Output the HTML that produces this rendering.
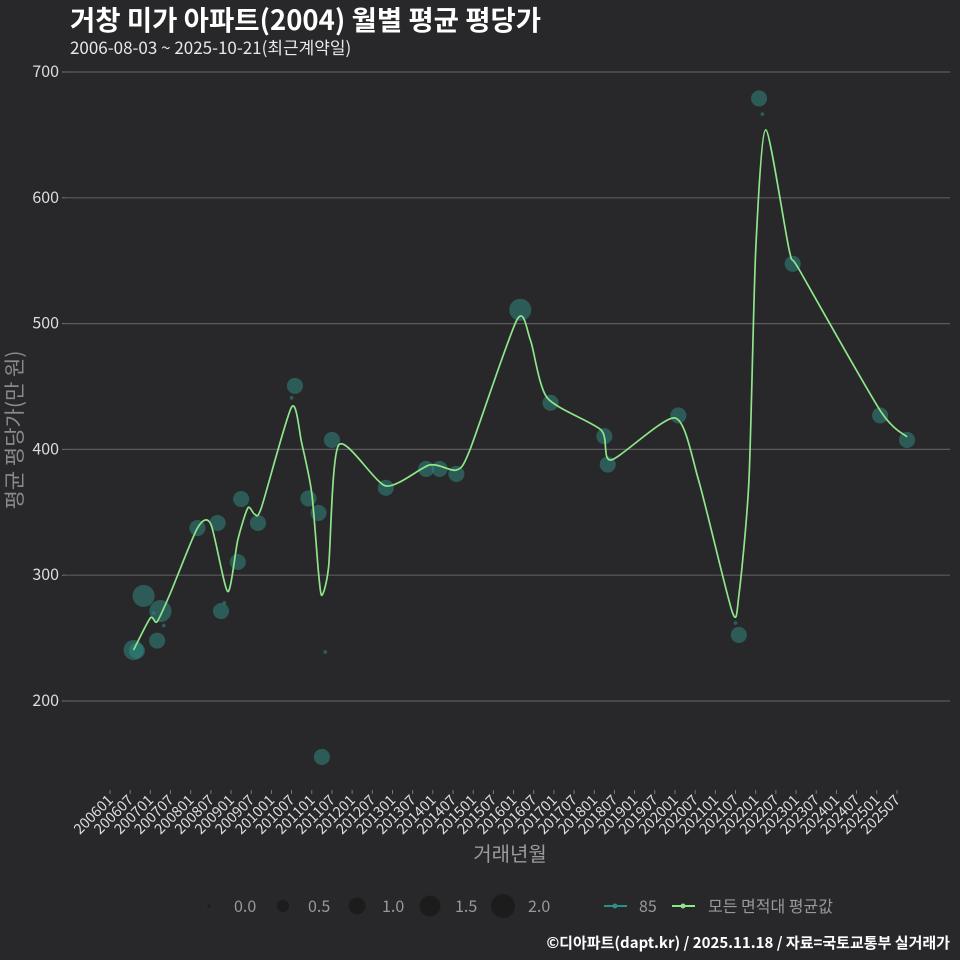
<!DOCTYPE html>
<html><head><meta charset="utf-8">
<style>
html,body{margin:0;padding:0;background:#282729;}
svg{display:block;font-family:"Noto Sans CJK KR","Liberation Sans",sans-serif;}
</style></head>
<body>
<svg id="chart" width="960" height="960" viewBox="0 0 960 960">
<rect width="960" height="960" fill="#282729"/>
<text x="70" y="30" font-size="27.5" font-weight="bold" fill="#ffffff">거창 미가 아파트(2004) 월별 평균 평당가</text>
<text x="70" y="54" font-size="17" fill="#e8e8e8">2006-08-03 ~ 2025-10-21(최근계약일)</text>
<g id="grid"></g>
<g id="yticks"></g>
<g id="xticks"></g>
<g id="bubbles"></g>
<path id="avgline" fill="none" stroke="#8ee68a" stroke-width="1.7"/>
<text transform="translate(22,430) rotate(-90)" text-anchor="middle" font-size="21" fill="#8a8a8a">평균 평당가(만 원)</text>
<text x="510" y="861" text-anchor="middle" font-size="20" fill="#9a9a9a">거래년월</text>
<g id="legend"></g>
<text x="950" y="948" text-anchor="end" font-size="15" font-weight="bold" fill="#ffffff">©디아파트(dapt.kr) / 2025.11.18 / 자료=국토교통부 실거래가</text>
</svg>
<script>
// data
const yTicks = [200, 300, 400, 500, 600, 700];
const xTickLabels = [];
for (let y = 2006; y <= 2025; y++) { xTickLabels.push(y + "01"); xTickLabels.push(y + "07"); }
// bubbles: month index since 2006-01, value, size
const bubbleMonths = [7, 8, 10, 14, 15, 26, 32, 33, 38, 39, 44, 55, 59, 62, 63, 66, 82, 94, 98, 103, 122, 131, 147, 148, 169, 187, 193, 203, 229, 237, 194, 186, 64, 54, 34, 13, 16];
const bubbleValues = [240.5, 240, 283.5, 248, 271.5, 337.5, 341.5, 271.5, 310.5, 360.5, 341.5, 450.5, 361, 349.5, 155.5, 407.5, 369.5, 384.5, 384.5, 380.5, 511, 437, 410.5, 388, 427, 252.5, 679, 547.5, 427, 407.5, 666.5, 262, 239, 441, 278, 270, 260];
const bubbleSizes = [1.4, 0.9, 1.7, 0.9, 1.7, 0.9, 0.9, 0.9, 0.9, 0.9, 0.9, 0.9, 0.9, 0.9, 0.9, 0.9, 0.9, 0.9, 0.9, 0.9, 1.7, 0.9, 0.9, 0.9, 0.9, 0.9, 0.9, 0.9, 0.9, 0.9, 0.05, 0.05, 0.05, 0.05, 0.05, 0.05, 0.05];
// average line
const lineMonths = [7, 12, 14, 18, 26, 30, 35, 38, 41, 43, 45, 54, 57, 60, 62, 63, 65, 68, 82, 95, 103, 107, 121, 125, 130, 146, 149, 168, 175, 185, 187, 190, 192, 195, 202, 205, 229, 237];
const lineValues = [240.5, 266, 263, 286, 337.5, 340.5, 287, 328, 353.5, 348.5, 353.5, 433.7, 405, 365, 302, 284, 306.5, 403.5, 371, 387.6, 383.6, 399.5, 503, 487, 441, 415.5, 391.6, 425, 375.7, 271, 284, 375.7, 558, 654, 558, 542.6, 431, 410];

const NS = "http://www.w3.org/2000/svg";
const X = m => 110 + m * 3.363;
const Y = v => 72 + (700 - v) * 1.258;
const R = s => Math.max(1.6, 12 * Math.sqrt(s / 2));
function mk(tag, attrs, parent, text) {
  const e = document.createElementNS(NS, tag);
  for (const k in attrs) e.setAttribute(k, attrs[k]);
  if (text !== undefined) e.textContent = text;
  parent.appendChild(e);
  return e;
}
const grid = document.getElementById('grid');
const yt = document.getElementById('yticks');
yTicks.forEach(v => {
  const l = mk('line', {x1: 65, x2: 950, y1: Y(v), y2: Y(v), stroke: '#5c5c5c', 'stroke-width': 1.2}, grid);
  
  
  mk('line', {x1: 62, x2: 65, y1: Y(v), y2: Y(v), stroke: '#777'}, yt);
  const t = mk('text', {x: 59, y: Y(v) + 5, 'text-anchor': 'end', 'font-size': 16, fill: '#dddddd'}, yt, v);
  
  
});
const xt = document.getElementById('xticks');
xTickLabels.forEach((lab, i) => {
  const x = X(i * 6);
  mk('line', {x1: x, x2: x, y1: 790, y2: 794, stroke: '#777'}, xt);
  const t = mk('text', {transform: `translate(${x + 4},801) rotate(-45)`, 'text-anchor': 'end', 'font-size': 14.5, fill: '#dddddd'}, xt, lab);
  
  
});
const bg = document.getElementById('bubbles');
bubbleMonths.forEach((m, i) => {
  const c = mk('circle', {cx: X(m), cy: Y(bubbleValues[i]), r: R(bubbleSizes[i]), fill: 'rgba(48,135,128,0.55)'}, bg);
  
  
});
// smooth line (Catmull-Rom)
const pts = lineMonths.map((m, i) => [X(m), Y(lineValues[i])]);
let d = `M${pts[0][0]},${pts[0][1]}`;
for (let i = 0; i < pts.length - 1; i++) {
  const p0 = pts[Math.max(0, i - 1)], p1 = pts[i], p2 = pts[i + 1], p3 = pts[Math.min(pts.length - 1, i + 2)];
  const t = 0.12;
  d += ` C${p1[0] + (p2[0] - p0[0]) * t},${p1[1] + (p2[1] - p0[1]) * t} ${p2[0] - (p3[0] - p1[0]) * t},${p2[1] - (p3[1] - p1[1]) * t} ${p2[0]},${p2[1]}`;
}
document.getElementById('avgline').setAttribute('d', d);
// legend
const lg = document.getElementById('legend');
const legSizes = [0, 0.5, 1, 1.5, 2];
const legLabels = ['0.0', '0.5', '1.0', '1.5', '2.0'];
const legX = [209, 283, 357, 430, 503];
legSizes.forEach((s, i) => {
  const c = mk('circle', {cx: legX[i], cy: 906, r: R(s), fill: '#1c1c1c'}, lg);
  
  
  mk('text', {x: legX[i] + 25, y: 912, 'font-size': 16, fill: '#999'}, lg, legLabels[i]);
});
mk('line', {x1: 604, x2: 627, y1: 906, y2: 906, stroke: '#2e8f8a', 'stroke-width': 2}, lg);
mk('circle', {cx: 615, cy: 906, r: 2.5, fill: '#2e8f8a'}, lg);
const t1 = mk('text', {x: 639, y: 912, 'font-size': 16, fill: '#999'}, lg, '85');


mk('line', {x1: 672, x2: 695, y1: 906, y2: 906, stroke: '#8ee68a', 'stroke-width': 2}, lg);
mk('circle', {cx: 683, cy: 906, r: 2.5, fill: '#8ee68a'}, lg);
const t2 = mk('text', {x: 708, y: 912, 'font-size': 16, fill: '#999'}, lg, '모든 면적대 평균값');


</script>
</body></html>
